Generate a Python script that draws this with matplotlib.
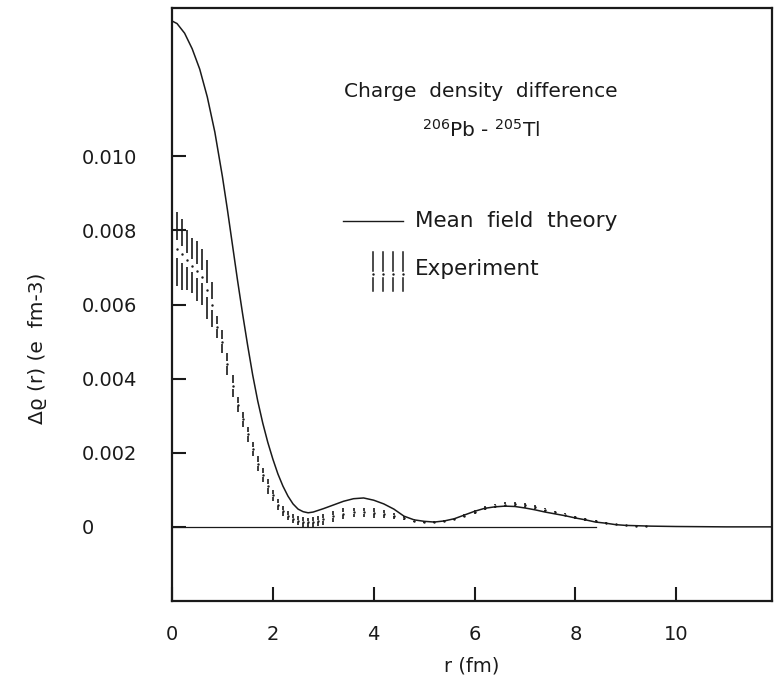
import matplotlib
matplotlib.use("Agg")
import matplotlib.pyplot as plt
import numpy as np

# mean field theory curve
r_theory = [0.0, 0.1, 0.25, 0.4, 0.55, 0.7, 0.85, 1.0, 1.1, 1.2, 1.3, 1.4, 1.5,
            1.6, 1.7, 1.8, 1.9, 2.0, 2.1, 2.2, 2.3, 2.4, 2.5, 2.6, 2.7, 2.8,
            3.0, 3.2, 3.4, 3.6, 3.8, 4.0, 4.2, 4.4, 4.6, 4.8, 5.0, 5.2, 5.4,
            5.6, 5.8, 6.0, 6.2, 6.4, 6.6, 6.8, 7.0, 7.2, 7.4, 7.6, 7.8, 8.0,
            8.2, 8.4, 8.6, 8.8, 9.0, 9.5, 10.0, 11.0, 11.9]
rho_theory = [0.01365, 0.01358, 0.01332, 0.01290, 0.01235, 0.01160, 0.01065,
              0.00945, 0.00855, 0.00760, 0.00665, 0.00575, 0.00490, 0.00410,
              0.00340, 0.00280, 0.00228, 0.00183, 0.00143, 0.00110, 0.00083,
              0.00062, 0.00048, 0.00041, 0.00038, 0.00040, 0.00049, 0.00059,
              0.00069, 0.00076, 0.00078, 0.00072, 0.00062, 0.00048, 0.00029,
              0.00019, 0.00015, 0.00013, 0.00016, 0.00022, 0.00032, 0.00042,
              0.00050, 0.00054, 0.00056, 0.00055, 0.00051, 0.00046, 0.00040,
              0.00035, 0.00030, 0.00024, 0.00019, 0.00013, 0.00010, 0.00006,
              0.00004, 0.00002, 0.00001, 0.0, 0.0]

# experimental error band: upper / lower edge at each bar
r_exp = [0.1, 0.2, 0.3, 0.4, 0.5, 0.6, 0.7, 0.8, 0.9, 1.0, 1.1, 1.2, 1.3, 1.4,
         1.5, 1.6, 1.7, 1.8, 1.9, 2.0, 2.1, 2.2, 2.3, 2.4, 2.5, 2.6, 2.7, 2.8,
         2.9, 3.0, 3.2, 3.4, 3.6, 3.8, 4.0, 4.2, 4.4, 4.6, 4.8, 5.0, 5.2, 5.4,
         5.6, 5.8, 6.0, 6.2, 6.4, 6.6, 6.8, 7.0, 7.2, 7.4, 7.6, 7.8, 8.0, 8.2,
         8.4, 8.6, 8.8, 9.0, 9.2, 9.4]
rho_exp_hi = [0.0085, 0.0083, 0.0080, 0.0078, 0.0077, 0.0075, 0.0072, 0.0066,
              0.0057, 0.0053, 0.0047, 0.0041, 0.0035, 0.0031, 0.0027, 0.0023,
              0.0019, 0.0016, 0.0013, 0.0010, 0.00074, 0.00055, 0.00042,
              0.00034, 0.00028, 0.00026, 0.00025, 0.00026, 0.00029, 0.00034,
              0.00042, 0.0005, 0.00052, 0.00052, 0.0005, 0.00045, 0.00038,
              0.00028, 0.0002, 0.00016, 0.00015, 0.00018, 0.00025, 0.00034,
              0.00045, 0.00055, 0.00062, 0.00066, 0.00067, 0.00064, 0.00058,
              0.00051, 0.00044, 0.00037, 0.0003, 0.00024, 0.00018, 0.00013,
              0.00009, 0.00006, 0.00004, 0.00003]
rho_exp_lo = [0.0065, 0.0064, 0.0064, 0.0063, 0.0061, 0.0060, 0.0056, 0.0054,
              0.0051, 0.0047, 0.0041, 0.0035, 0.0031, 0.0027, 0.0023, 0.0019,
              0.0015, 0.0012, 0.0009, 0.0007, 0.00046, 0.00029, 0.00018,
              0.0001, 0.00004, 0.00001, 0.0, 0.0, 0.00003, 0.00006,
              0.00014, 0.00022, 0.00026, 0.00026, 0.00025, 0.00025, 0.00022,
              0.00018, 0.00013, 0.0001, 0.0001, 0.00013, 0.00019, 0.00027,
              0.00036, 0.00045, 0.00051, 0.00054, 0.00055, 0.00052, 0.00047,
              0.00041, 0.00034, 0.00028, 0.00022, 0.00017, 0.00012, 0.00008,
              0.00005, 0.00003, 0.00002, 0.00001]

x_ticks = [0, 2, 4, 6, 8, 10]
y_ticks = [0, 0.002, 0.004, 0.006, 0.008, 0.010]
y_ticklabels = ["0", "0.002", "0.004", "0.006", "0.008", "0.010"]

ink = "#1a1a1a"
plt.rcParams['font.family'] = ['DejaVu Sans']

fig = plt.figure(figsize=(7.78, 6.8), dpi=100)
ax = fig.add_axes([172 / 778, 1 - 601 / 680, 600 / 778, 593 / 680])

ax.plot(r_theory, rho_theory, color=ink, lw=1.1)
ax.plot([0, 8.4], [0, 0], color=ink, lw=0.9)

# error bars: upper piece, dotted centre, lower piece
hi = np.array(rho_exp_hi)
lo = np.array(rho_exp_lo)
mid = (hi + lo) / 2
gap = 0.12 * (hi - lo)
ax.vlines(r_exp, mid + gap, hi, color=ink, lw=1.2)
ax.vlines(r_exp, lo, mid - gap, color=ink, lw=1.2)
ax.plot(r_exp, mid, ls="none", marker=".", ms=1.5, color=ink)

ax.set_xlim(0, 11.9)
ax.set_ylim(-0.002, 0.014)
ax.set_xticks(x_ticks)
ax.set_xticklabels([str(t) for t in x_ticks])
ax.set_yticks(y_ticks)
ax.set_yticklabels(y_ticklabels)
for lab in ax.get_yticklabels():
    lab.set_horizontalalignment("left")
ax.tick_params(axis="y", direction="in", length=10, width=1.5, pad=65,
               labelsize=14, colors=ink)
ax.tick_params(axis="x", direction="in", length=10, width=1.5, pad=17,
               labelsize=14, colors=ink)
for sp in ax.spines.values():
    sp.set_linewidth(1.6)
    sp.set_color(ink)

ax.set_xlabel("r (fm)", fontsize=14, color=ink, labelpad=9)
fig.text(38 / 778, 1 - 348 / 680, "\u0394\u03f1 (r) (e  fm-3)", rotation=90,
         ha="center", va="center", fontsize=14.5, color=ink)

# title block and legend
ax.text(0.515, 0.86, "Charge  density  difference", transform=ax.transAxes,
        ha="center", va="center", fontsize=14.5, color=ink)
ax.text(0.515, 0.795, r"$^{206}$Pb - $^{205}$Tl", transform=ax.transAxes,
        ha="center", va="center", fontsize=14.5, color=ink)

ax.plot([0.285, 0.385], [0.64, 0.64], transform=ax.transAxes, color=ink, lw=1.0)
ax.text(0.405, 0.64, "Mean  field  theory", transform=ax.transAxes,
        ha="left", va="center", fontsize=15.5, color=ink)
for xs in [0.335, 0.3517, 0.3683, 0.385]:
    ax.plot([xs, xs], [0.557, 0.588], transform=ax.transAxes, color=ink, lw=1.1)
    ax.plot([xs, xs], [0.522, 0.545], transform=ax.transAxes, color=ink, lw=1.1)
    ax.plot([xs], [0.551], transform=ax.transAxes, marker=".", ms=1.5, color=ink)
ax.text(0.405, 0.56, "Experiment", transform=ax.transAxes,
        ha="left", va="center", fontsize=15.5, color=ink)

fig.savefig("out.png", dpi=100, facecolor="white")
